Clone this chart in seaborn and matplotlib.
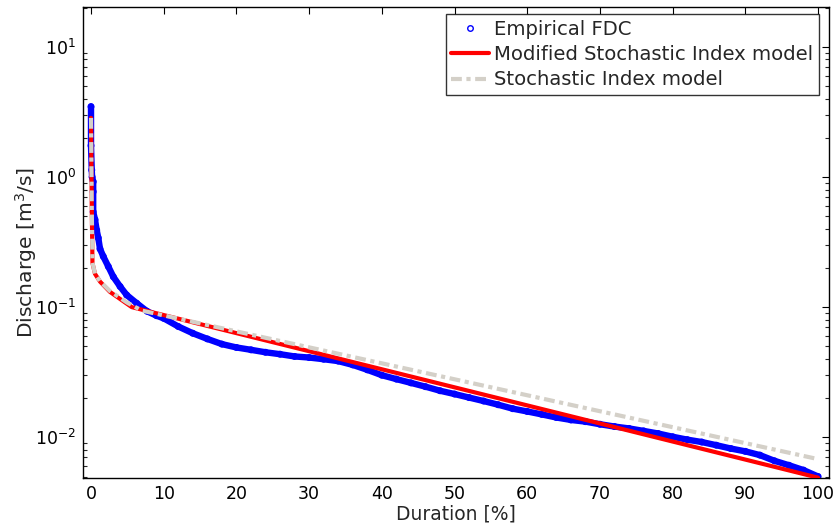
import matplotlib
matplotlib.use("Agg")
import matplotlib.pyplot as plt
import matplotlib.ticker as mticker
from matplotlib.lines import Line2D
import pandas as pd
import seaborn as sns

# Empirical flow duration curve
duration_emp = [0.0, 0.0, 0.1, 0.15, 0.3, 0.3, 0.3, 0.55, 0.78, 1.0, 1.24, 1.69, 2.38, 3.07,
                4.0, 4.9, 6.3, 7.7, 9, 10, 12, 14, 16, 18, 20, 22, 24, 26, 28, 30, 32, 34,
                36, 38, 40, 42, 44, 46, 48, 50, 52, 54, 56, 58, 60, 62, 64, 66, 68, 70, 72,
                74, 76, 78, 80, 82, 84, 86, 88, 90, 92, 94, 96, 98, 100]
discharge_emp = [3.47, 1.74, 1.13, 1.0, 0.92, 0.77, 0.54, 0.47, 0.39, 0.34, 0.28, 0.245, 0.205,
                 0.171, 0.144, 0.124, 0.107, 0.093, 0.086, 0.082, 0.071, 0.063, 0.057, 0.052,
                 0.049, 0.047, 0.045, 0.0435, 0.0418, 0.041, 0.0398, 0.0385, 0.036, 0.033,
                 0.030, 0.028, 0.0262, 0.0245, 0.0228, 0.0215, 0.0202, 0.019, 0.0178, 0.0166,
                 0.0158, 0.015, 0.0142, 0.0136, 0.0132, 0.0126, 0.0121, 0.0117, 0.0112,
                 0.0107, 0.0101, 0.0096, 0.0092, 0.0087, 0.0082, 0.0078, 0.0073, 0.0066,
                 0.0061, 0.0056, 0.0050]

# Modified Stochastic Index model
duration_msi = [0.0, 0.1, 0.2, 0.55, 1.24, 2.6, 5.6, 100.0]
discharge_msi = [2.84, 0.6, 0.218, 0.18, 0.157, 0.131, 0.1, 0.0049]

# Stochastic Index model
duration_si = [0.0, 0.1, 0.2, 0.55, 1.24, 2.6, 5.0, 7.0, 100.0]
discharge_si = [2.84, 0.6, 0.22, 0.18, 0.158, 0.133, 0.108, 0.094, 0.0068]

xticks = [0, 10, 20, 30, 40, 50, 60, 70, 80, 90, 100]

sns.set_theme(style="white")
plt.rcParams['font.family'] = ['DejaVu Sans']

emp = pd.DataFrame({"d": duration_emp, "q": discharge_emp})
msi = pd.DataFrame({"d": duration_msi, "q": discharge_msi})
si = pd.DataFrame({"d": duration_si, "q": discharge_si})

fig = plt.figure(figsize=(8.36, 5.29), dpi=100)
ax = fig.add_axes([0.0993, 0.0964, 0.8923, 0.8904])
ax.set_yscale("log")

blue = "#0000ff"
red = "#ff0000"
gray = "#d4d0c8"

# dense band of the empirical points
sns.lineplot(data=emp, x="d", y="q", ax=ax, color=blue, lw=4.6, sort=False,
             estimator=None, legend=False, zorder=2)
sns.scatterplot(data=emp, x="d", y="q", ax=ax, marker="o", s=16, facecolors="none",
                edgecolor=blue, linewidth=1.0, legend=False, zorder=2)
sns.lineplot(data=msi, x="d", y="q", ax=ax, color=red, lw=3.0, sort=False,
             estimator=None, legend=False, zorder=3)
sns.lineplot(data=si, x="d", y="q", ax=ax, color=gray, lw=3.0, sort=False,
             estimator=None, legend=False, zorder=4, dashes=False)
ax.lines[-1].set_dashes([2.6, 1.1, 1.0, 1.1])

ax.set_xlim(-1.1, 101.5)
ax.set_ylim(0.00487, 20.2)
ax.set_xticks(xticks)
ax.set_xticklabels([str(t) for t in xticks])
ax.yaxis.set_major_locator(mticker.LogLocator(base=10))
ax.yaxis.set_minor_locator(mticker.LogLocator(base=10, subs=range(2, 10)))
ax.yaxis.set_minor_formatter(mticker.NullFormatter())

ax.tick_params(axis="both", which="major", direction="in", length=5, width=0.8,
               top=True, right=True, labelsize=12.5, colors="black", pad=5)
ax.tick_params(axis="y", which="minor", direction="in", length=3, width=0.8,
               left=True, right=True)
for sp in ax.spines.values():
    sp.set_color("black")
    sp.set_linewidth(1.0)

ax.set_xlabel("Duration [%]", fontsize=13.5, labelpad=1)
ax.set_ylabel("Discharge [m$^3$/s]", fontsize=14.6)
ax.yaxis.set_label_coords(-0.059, 0.48)

handles = [
    Line2D([], [], ls="none", marker="o", markersize=4, markerfacecolor="none",
           markeredgecolor=blue, markeredgewidth=1.0),
    Line2D([], [], color=red, lw=3.0),
    Line2D([], [], color=gray, lw=3.0, dashes=[2.6, 1.1, 1.0, 1.1]),
]
labels = ["Empirical FDC", "Modified Stochastic Index model", "Stochastic Index model"]
leg = ax.legend(handles, labels, loc="upper right", bbox_to_anchor=(0.986, 0.985),
                fontsize=14.1, frameon=True, fancybox=False, shadow=False,
                handlelength=1.9, handletextpad=0.25, labelspacing=0.32,
                borderpad=0.3, borderaxespad=0.0, numpoints=1)
leg.get_frame().set_edgecolor("black")
leg.get_frame().set_linewidth(1.0)

fig.savefig("out.png", dpi=100, facecolor="white")
